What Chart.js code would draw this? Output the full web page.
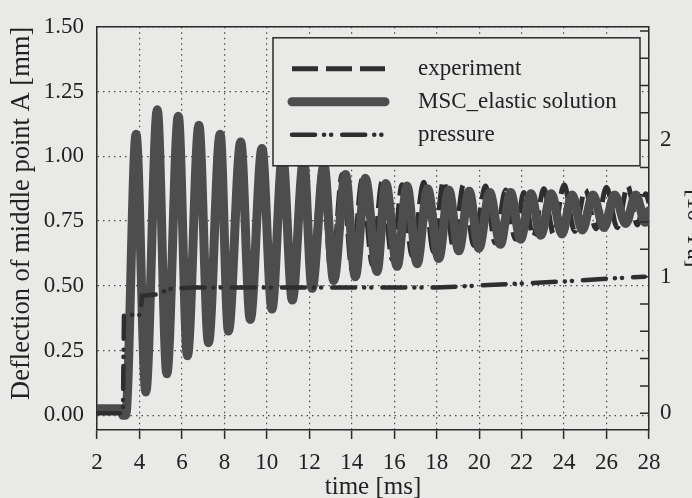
<!DOCTYPE html>
<html>
<head>
<meta charset="utf-8">
<script src="https://cdn.jsdelivr.net/npm/chart.js@4.4.0/dist/chart.umd.min.js"></script>
<style>
    html, body { margin: 0; padding: 0; overflow: hidden; background: #e9e9e7; }
    #wrap { width: 708px; height: 498px; }
</style>
</head>
<body>
<div id="wrap"><canvas id="chart" width="708" height="498"></canvas></div>
<script>
// Peaks and troughs: time [ms] -> deflection [mm]
const mscTime = [2.0, 3.15, 3.22, 3.35, 3.84, 4.30, 4.84, 5.29, 5.83, 6.26, 6.80, 7.25, 7.80, 8.19, 8.77, 9.22, 9.77, 10.24,
    10.74, 11.20, 11.73, 12.13, 12.69, 13.15, 13.70, 14.17, 14.64, 15.19, 15.60, 16.14, 16.60, 17.08, 17.57, 18.10, 18.57,
    19.04, 19.53, 19.99, 20.50, 21.00, 21.48, 21.95, 22.44, 22.90, 23.40, 23.90, 24.38, 24.86, 25.36, 25.88, 26.38, 26.90,
    27.38, 27.82, 28.0];
const mscDefl = [0.025, 0.025, 0.0, 0.0, 1.085, 0.09, 1.18, 0.16, 1.155, 0.23, 1.12, 0.28, 1.085, 0.325, 1.055, 0.37, 1.03, 0.41,
    1.005, 0.445, 0.985, 0.49, 0.965, 0.52, 0.93, 0.535, 0.915, 0.555, 0.895, 0.575, 0.885, 0.585, 0.875, 0.605, 0.87,
    0.635, 0.865, 0.645, 0.86, 0.66, 0.86, 0.68, 0.855, 0.695, 0.855, 0.70, 0.85, 0.715, 0.85, 0.725, 0.85, 0.74,
    0.85, 0.745, 0.79];

const expTime = [2.0, 3.15, 3.22, 3.35, 3.84, 4.30, 4.84, 5.29, 5.83, 6.26, 6.80, 7.25, 7.80, 8.19, 8.77, 9.22, 9.77, 10.24,
    10.72, 11.17, 11.68, 12.07, 12.60, 13.05, 13.55, 14.02, 14.48, 14.98, 15.42, 15.92, 16.37, 16.85, 17.39, 17.85, 18.32,
    18.80, 19.26, 19.75, 20.30, 20.75, 21.25, 21.70, 22.10, 22.55, 23.05, 23.50, 24.00, 24.50, 25.00, 25.50, 26.00, 26.50,
    27.00, 27.45, 27.85, 28.0];
const expDefl = [0.025, 0.025, 0.0, 0.0, 1.075, 0.10, 1.17, 0.17, 1.145, 0.24, 1.11, 0.29, 1.075, 0.335, 1.045, 0.38, 1.02, 0.42,
    0.995, 0.455, 0.975, 0.50, 0.955, 0.53, 0.93, 0.56, 0.91, 0.58, 0.90, 0.60, 0.89, 0.615, 0.90, 0.63, 0.905,
    0.645, 0.89, 0.655, 0.885, 0.665, 0.87, 0.68, 0.86, 0.69, 0.875, 0.70, 0.89, 0.71, 0.87, 0.72, 0.88, 0.725,
    0.885, 0.735, 0.855, 0.82];

// pressure, right axis [10^5 Pa]
const presTime = [2.0, 3.22, 3.27, 4.05, 4.12, 4.85, 5.40, 6.50, 18.0, 20.0, 22.0, 24.0, 26.0, 27.8];
const presVal = [0, 0, 0.72, 0.72, 0.86, 0.87, 0.91, 0.92, 0.92, 0.935, 0.95, 0.965, 0.985, 1.0];

const timeTicks = [2, 4, 6, 8, 10, 12, 14, 16, 18, 20, 22, 24, 26, 28];
const deflTicks = [0, 0.25, 0.5, 0.75, 1.0, 1.25, 1.5];
const presTicks = [0, 0.2, 0.4, 0.6, 0.8, 1.0, 1.2, 1.4, 1.6, 1.8, 2.0, 2.2, 2.4, 2.6, 2.8];
const presLabels = ['0', '', '', '', '', '1', '', '', '', '', '2', '', '', '', ''];

const pageColor = '#e9e9e7';
const inkColor = '#2a2a2a';
const serif = '"Liberation Serif", "Times New Roman", serif';
const legendOrder = [1, 0, 2];

function points(xs, ys) {
    return xs.map((x, i) => ({ x: x, y: ys[i] }));
}

// frame: top border and inward ticks on the right axis
const framePlugin = {
    id: 'frame',
    afterDatasetsDraw(chart) {
        const { ctx, chartArea: a } = chart;
        const y2 = chart.scales.y2;
        ctx.save();
        ctx.strokeStyle = inkColor;
        ctx.lineWidth = 1.5;
        ctx.beginPath();
        ctx.moveTo(a.left, a.top);
        ctx.lineTo(a.right, a.top);
        y2.ticks.forEach(t => {
            const y = y2.getPixelForValue(t.value);
            ctx.moveTo(a.right - 9, y);
            ctx.lineTo(a.right, y);
        });
        ctx.stroke();
        ctx.restore();
    }
};

// legend box drawn inside the plot, over the curves
const legendPlugin = {
    id: 'legendBox',
    afterDatasetsDraw(chart) {
        const { ctx, chartArea: a } = chart;
        const w = 367, h = 128;
        const left = a.right - 376, top = a.top + 11;
        ctx.save();
        ctx.fillStyle = pageColor;
        ctx.fillRect(left, top, w, h);
        ctx.lineWidth = 1.5;
        ctx.strokeStyle = inkColor;
        ctx.strokeRect(left, top, w, h);
        legendOrder.forEach((idx, row) => {
            const ds = chart.data.datasets[idx];
            const y = top + 31 + row * 33;
            ctx.beginPath();
            ctx.setLineDash(ds.borderDash || []);
            ctx.lineCap = ds.borderCapStyle || 'butt';
            ctx.lineWidth = ds.borderWidth;
            ctx.strokeStyle = ds.borderColor;
            ctx.moveTo(left + 19, y);
            ctx.lineTo(left + 112, y);
            ctx.stroke();
            ctx.setLineDash([]);
            ctx.fillStyle = '#222';
            ctx.font = '23px ' + serif;
            ctx.textBaseline = 'middle';
            ctx.fillText(ds.label, left + 145, y);
        });
        ctx.restore();
    }
};

const ctx = document.getElementById('chart').getContext('2d');

new Chart(ctx, {
    type: 'line',
    data: {
        datasets: [
            {
                label: 'MSC_elastic solution',
                data: points(mscTime, mscDefl),
                borderColor: '#4d4d4d',
                borderWidth: 9,
                borderCapStyle: 'round',
                borderJoinStyle: 'round',
                cubicInterpolationMode: 'monotone',
                pointRadius: 0,
                yAxisID: 'y',
                order: 2
            },
            {
                label: 'experiment',
                data: points(expTime, expDefl),
                borderColor: '#2e2e2e',
                borderWidth: 5,
                borderDash: [26, 8],
                cubicInterpolationMode: 'monotone',
                pointRadius: 0,
                yAxisID: 'y',
                order: 3
            },
            {
                label: 'pressure',
                data: points(presTime, presVal),
                borderColor: '#2e2e2e',
                borderWidth: 4.5,
                borderDash: [23, 9, 0.1, 7, 0.1, 11],
                borderCapStyle: 'round',
                tension: 0,
                pointRadius: 0,
                yAxisID: 'y2',
                order: 1
            }
        ]
    },
    options: {
        responsive: false,
        animation: false,
        layout: { padding: { top: 21, left: 0, right: 0, bottom: 0 } },
        plugins: {
            legend: { display: false },
            tooltip: { enabled: false }
        },
        scales: {
            x: {
                type: 'linear',
                min: 2,
                max: 28,
                afterBuildTicks: s => { s.ticks = timeTicks.map(v => ({ value: v })); },
                afterFit: s => { s.height = 68; },
                ticks: {
                    autoSkip: false,
                    maxRotation: 0,
                    padding: 10,
                    color: '#222',
                    font: { family: serif, size: 23 }
                },
                grid: {
                    color: '#4a4a4a',
                    lineWidth: 1.2,
                    drawTicks: true,
                    tickLength: 9,
                    tickColor: inkColor,
                    tickWidth: 1.5
                },
                border: { display: true, color: inkColor, width: 1.5, dash: [1.5, 4] },
                title: {
                    display: true,
                    text: 'time [ms]',
                    color: '#222',
                    font: { family: serif, size: 25, lineHeight: 1 },
                    padding: { top: 0, bottom: -2 }
                }
            },
            y: {
                position: 'left',
                min: -0.057,
                max: 1.5,
                afterBuildTicks: s => { s.ticks = deflTicks.map(v => ({ value: v })); },
                afterFit: s => { s.width = 97; },
                ticks: {
                    autoSkip: false,
                    padding: 13,
                    color: '#222',
                    font: { family: serif, size: 23 },
                    callback: v => Number(v).toFixed(2)
                },
                grid: {
                    color: '#4a4a4a',
                    lineWidth: 1.2,
                    drawTicks: false
                },
                border: { display: true, color: inkColor, width: 1.5, dash: [1.5, 4] },
                title: {
                    display: true,
                    text: 'Deflection of middle point A [mm]',
                    align: 'end',
                    color: '#222',
                    font: { family: serif, size: 26.5, lineHeight: 1 },
                    padding: { top: 9, bottom: 0 }
                }
            },
            y2: {
                position: 'right',
                min: -0.123,
                max: 2.83,
                afterBuildTicks: s => { s.ticks = presTicks.map(v => ({ value: v })); },
                afterFit: s => { s.width = 59; },
                ticks: {
                    autoSkip: false,
                    padding: 11,
                    color: '#222',
                    font: { family: serif, size: 23 },
                    callback: (v, i) => presLabels[i]
                },
                grid: { drawOnChartArea: false, drawTicks: false },
                border: { display: true, color: inkColor, width: 1.5 },
                title: {
                    display: true,
                    text: '[10⁵ Pa]',
                    color: '#222',
                    font: { family: serif, size: 24, lineHeight: 1 },
                    padding: { top: 2, bottom: 0 }
                }
            }
        }
    },
    plugins: [framePlugin, legendPlugin]
});
</script>
</body>
</html>
